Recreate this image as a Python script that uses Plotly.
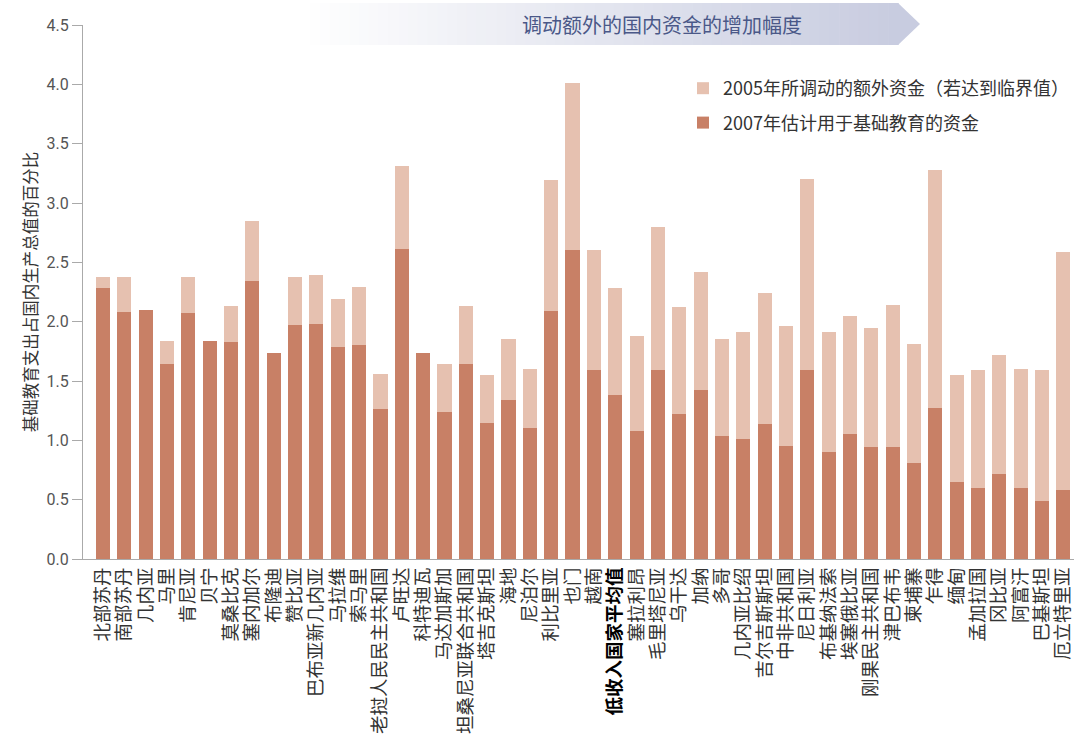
import plotly.graph_objects as go

countries = ["北部苏丹", "南部苏丹", "几内亚", "马里", "肯尼亚", "贝宁", "莫桑比克", "塞内加尔",
             "布隆迪", "赞比亚", "巴布亚新几内亚", "马拉维", "索马里", "老挝人民民主共和国", "卢旺达",
             "科特迪瓦", "马达加斯加", "坦桑尼亚联合共和国", "塔吉克斯坦", "海地", "尼泊尔", "利比里亚",
             "也门", "越南", "低收入国家平均值", "塞拉利昂", "毛里塔尼亚", "乌干达", "加纳", "多哥",
             "几内亚比绍", "吉尔吉斯斯坦", "中非共和国", "尼日利亚", "布基纳法索", "埃塞俄比亚",
             "刚果民主共和国", "津巴布韦", "柬埔寨", "乍得", "缅甸", "孟加拉国", "冈比亚", "阿富汗",
             "巴基斯坦", "厄立特里亚"]

spend_2007 = [2.28, 2.08, 2.10, 1.64, 2.07, 1.84, 1.83, 2.34, 1.74, 1.97, 1.98, 1.79, 1.80, 1.26,
              2.61, 1.74, 1.24, 1.64, 1.15, 1.34, 1.10, 2.09, 2.60, 1.59, 1.38, 1.08, 1.59, 1.22,
              1.42, 1.04, 1.01, 1.14, 0.95, 1.59, 0.90, 1.05, 0.94, 0.94, 0.81, 1.27, 0.65, 0.60,
              0.72, 0.60, 0.49, 0.58]

total_2005 = [2.38, 2.38, 2.10, 1.84, 2.38, 1.84, 2.13, 2.85, 1.74, 2.38, 2.39, 2.19, 2.29, 1.56,
              3.31, 1.74, 1.64, 2.13, 1.55, 1.85, 1.60, 3.19, 4.01, 2.60, 2.28, 1.88, 2.80, 2.12,
              2.42, 1.85, 1.91, 2.24, 1.96, 3.20, 1.91, 2.05, 1.95, 2.14, 1.81, 3.28, 1.55, 1.59,
              1.72, 1.60, 1.59, 2.59]

extra_2005 = [round(t - s, 3) for t, s in zip(total_2005, spend_2007)]

y_ticks = [0.0, 0.5, 1.0, 1.5, 2.0, 2.5, 3.0, 3.5, 4.0, 4.5]
highlight = "低收入国家平均值"

tick_text = ["<span style='color:#000'><b>" + c + "</b></span>" if c == highlight else c
             for c in countries]

DARK = "#C88066"
LIGHT = "#E6C1B0"
CJK = "Noto Sans CJK SC"

fig = go.Figure()
fig.add_trace(go.Bar(x=countries, y=spend_2007, name="2007年估计用于基础教育的资金",
                     marker=dict(color=DARK, line=dict(width=0)), legendgroup="a", legendrank=2))
fig.add_trace(go.Bar(x=countries, y=extra_2005, name="2005年所调动的额外资金（若达到临界值）",
                     marker=dict(color=LIGHT, line=dict(width=0)), legendgroup="b", legendrank=1))

# banner gradient (decoration), positioned in page pixels relative to the plot area
L, T = 83, 25
W, H = 991, 534


def px(xp):
    return (xp - L) / W


def py(yp):
    return (T + H - yp) / H


x0, x1, tip = 310, 898, 920
ytop, ybot = 3, 45
n = 60
c0 = (255, 255, 255)
c1 = (200, 204, 224)
for i in range(n):
    a = x0 + (x1 - x0) * i / n
    b = x0 + (x1 - x0) * (i + 1) / n + 0.6
    f = (i + 0.5) / n
    col = "rgb({},{},{})".format(*[int(c0[k] + (c1[k] - c0[k]) * f) for k in range(3)])
    fig.add_shape(type="rect", xref="paper", yref="paper", x0=px(a), x1=px(b),
                  y0=py(ybot), y1=py(ytop), fillcolor=col, line=dict(width=0), layer="below")
fig.add_shape(type="path", xref="paper", yref="paper",
              path="M {} {} L {} {} L {} {} Z".format(px(x1), py(ytop), px(tip), py((ytop + ybot) / 2),
                                                       px(x1), py(ybot)),
              fillcolor="rgb(200,204,224)", line=dict(width=0), layer="below")
fig.add_annotation(xref="paper", yref="paper", x=px(662), y=py(24), text="调动额外的国内资金的增加幅度",
                   showarrow=False, font=dict(family=CJK, size=20, color="#4a5888"),
                   xanchor="center", yanchor="middle")

fig.update_layout(
    width=1078, height=748,
    margin=dict(l=L, r=1078 - L - W, t=T, b=748 - T - H, autoexpand=False),
    barmode="stack", bargap=0.34,
    plot_bgcolor="white", paper_bgcolor="white",
    font=dict(family=CJK, color="#333"),
    legend=dict(x=px(683), y=py(70), xanchor="left", yanchor="top",
                font=dict(family="Liberation Sans Narrow, " + CJK, size=18, color="#333"),
                traceorder="grouped", tracegroupgap=8, itemwidth=30, bgcolor="rgba(0,0,0,0)"),
    xaxis=dict(range=[-0.94, 45.5], tickmode="array", tickvals=countries, ticktext=tick_text,
               tickangle=-90, tickfont=dict(family=CJK, size=18.5, color="#333"), automargin=False,
               showline=True, linecolor="#aaa", linewidth=1, ticks="", showgrid=False),
    yaxis=dict(range=[0, 4.5], tickvals=y_ticks, ticktext=["{:.1f}".format(v) for v in y_ticks],
               showline=True, linecolor="#aaa", linewidth=1, ticks="outside", ticklen=10,
               tickcolor="#aaa", showgrid=False, zeroline=False, automargin=False,
               tickfont=dict(family="Liberation Sans Narrow, Roboto, sans-serif", size=16, color="#555"),
               title=dict(text="基础教育支出占国内生产总值的百分比",
                          font=dict(family=CJK, size=16.5, color="#333"), standoff=4)),
)

fig.write_html("out.html", config={"displayModeBar": False},
               post_script="document.body.style.margin='0';")
